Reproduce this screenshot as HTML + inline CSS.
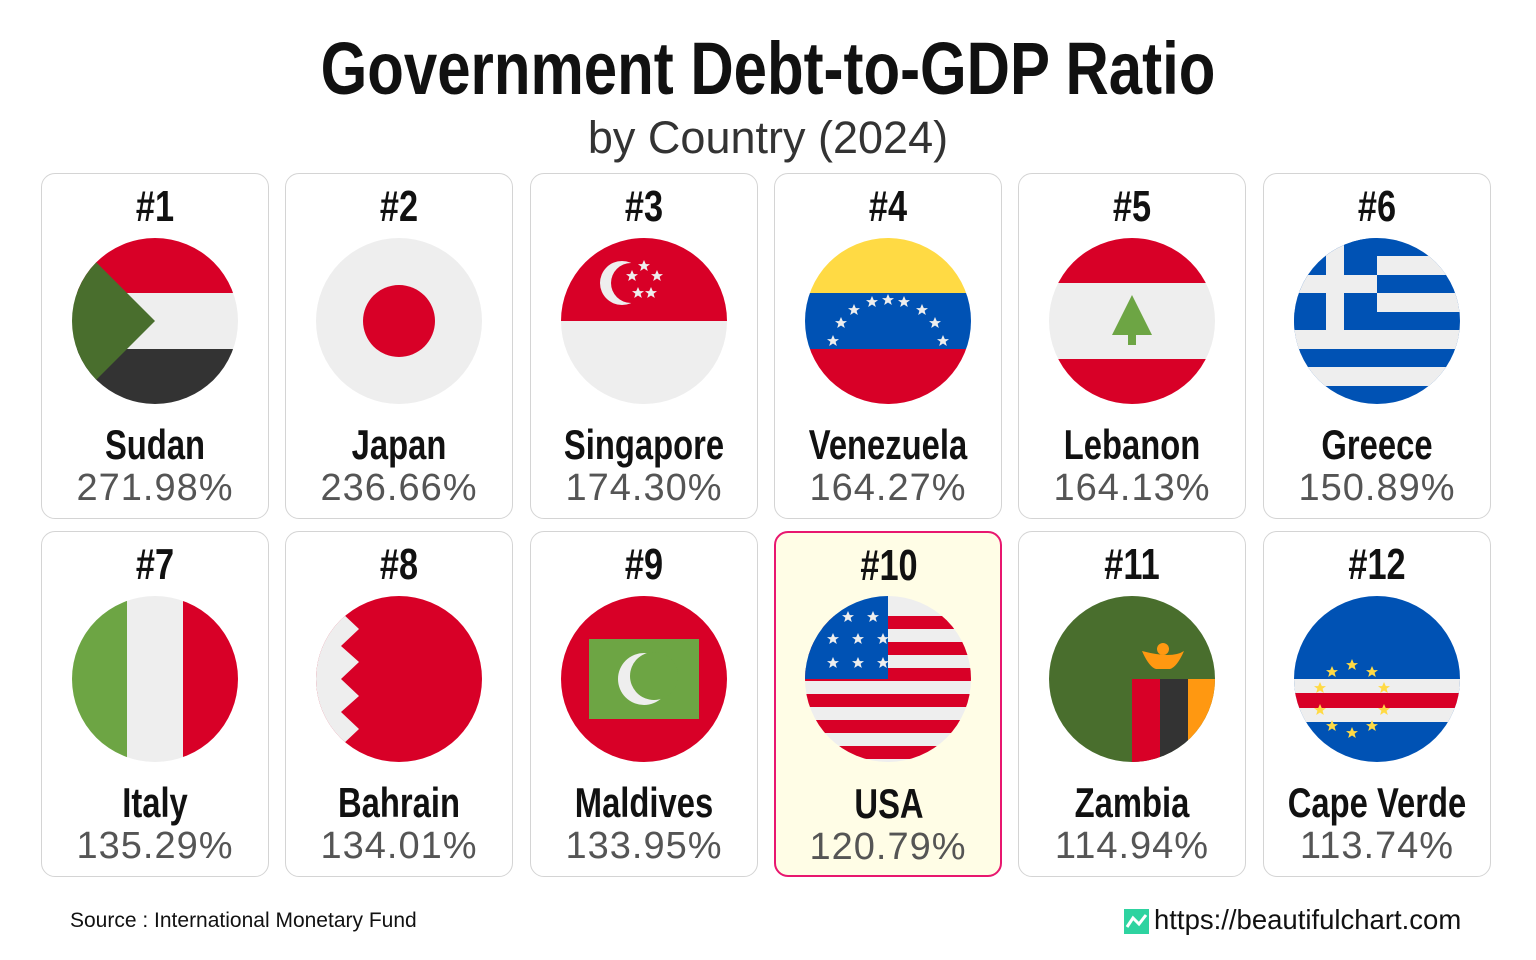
<!DOCTYPE html>
<html><head><meta charset="utf-8"><style>
body{margin:0;width:1536px;height:960px;background:#fff;position:relative;overflow:hidden;font-family:"Liberation Sans",sans-serif}
.t{position:absolute;left:0;width:1536px;text-align:center;white-space:nowrap}
.card{position:absolute;width:226px;height:344px;border:1px solid #d4d4d4;border-radius:14px;background:#fff}
.hl{border:2px solid #e8176f;width:224px;height:342px;background:#fffde6}
.rank,.name{position:absolute;left:-40px;width:306px;text-align:center;font-weight:bold;color:#111;transform:scaleX(0.78);font-size:44px;white-space:nowrap}
.rank{top:8px}
.name{top:247px;font-size:42px}
.val{position:absolute;left:0;width:100%;text-align:center;top:293px;font-size:38px;color:#555;letter-spacing:1px;white-space:nowrap}
.flag{position:absolute;left:29px;top:63px}
</style></head><body>
<div class="t" style="top:26px;font-size:74px;font-weight:bold;color:#111;transform:scaleX(0.81)">Government Debt-to-GDP Ratio</div>
<div class="t" style="top:112px;font-size:45px;color:#333">by Country (2024)</div>

<svg width="0" height="0" style="position:absolute"><defs><clipPath id="c"><circle cx="0" cy="0" r="83"/></clipPath>
<polygon id="st" points="0,-6 1.8,-1.9 6,-1.9 2.6,0.8 3.8,5 0,2.5 -3.8,5 -2.6,0.8 -6,-1.9 -1.8,-1.9"/></defs></svg>

<div class="card" style="left:41px;top:173px"><div class="rank">#1</div>
<svg class="flag" width="168" height="168" viewBox="-84 -84 168 168"><g clip-path="url(#c)"><rect x="-84" y="-84" width="168" height="56" fill="#d80027"/><rect x="-84" y="-28" width="168" height="56" fill="#eee"/><rect x="-84" y="28" width="168" height="56" fill="#333"/><polygon points="-84,-84 0,0 -84,84" fill="#496e2d"/></g></svg>
<div class="name">Sudan</div><div class="val">271.98%</div></div>

<div class="card" style="left:285px;top:173px"><div class="rank">#2</div>
<svg class="flag" width="168" height="168" viewBox="-84 -84 168 168"><circle r="83" fill="#eee"/><circle r="36" fill="#d80027"/></svg>
<div class="name">Japan</div><div class="val">236.66%</div></div>

<div class="card" style="left:530px;top:173px"><div class="rank">#3</div>
<svg class="flag" width="168" height="168" viewBox="-84 -84 168 168"><g clip-path="url(#c)"><rect x="-84" y="-84" width="168" height="84" fill="#d80027"/><rect x="-84" y="0" width="168" height="84" fill="#eee"/><circle cx="-22" cy="-38" r="22" fill="#eee"/><circle cx="-13" cy="-38" r="20" fill="#d80027"/><use href="#st" x="0" y="-55" fill="#eee"/><use href="#st" x="13" y="-45" fill="#eee"/><use href="#st" x="-12" y="-45" fill="#eee"/><use href="#st" x="-6" y="-28" fill="#eee"/><use href="#st" x="7" y="-28" fill="#eee"/></g></svg>
<div class="name">Singapore</div><div class="val">174.30%</div></div>

<div class="card" style="left:774px;top:173px"><div class="rank">#4</div>
<svg class="flag" width="168" height="168" viewBox="-84 -84 168 168"><g clip-path="url(#c)"><rect x="-84" y="-84" width="168" height="56" fill="#ffda44"/><rect x="-84" y="-28" width="168" height="56" fill="#0052b4"/><rect x="-84" y="28" width="168" height="56" fill="#d80027"/><g fill="#eee"><use href="#st" x="-55" y="20"/><use href="#st" x="-47" y="2"/><use href="#st" x="-34" y="-11"/><use href="#st" x="-16" y="-19"/><use href="#st" x="0" y="-21"/><use href="#st" x="16" y="-19"/><use href="#st" x="34" y="-11"/><use href="#st" x="47" y="2"/><use href="#st" x="55" y="20"/></g></g></svg>
<div class="name">Venezuela</div><div class="val">164.27%</div></div>

<div class="card" style="left:1018px;top:173px"><div class="rank">#5</div>
<svg class="flag" width="168" height="168" viewBox="-84 -84 168 168"><g clip-path="url(#c)"><rect x="-84" y="-84" width="168" height="46" fill="#d80027"/><rect x="-84" y="-38" width="168" height="76" fill="#eee"/><rect x="-84" y="38" width="168" height="46" fill="#d80027"/><polygon points="0,-26 -20,14 20,14" fill="#6da544"/><rect x="-4" y="12" width="8" height="12" fill="#6da544"/></g></svg>
<div class="name">Lebanon</div><div class="val">164.13%</div></div>

<div class="card" style="left:1263px;top:173px"><div class="rank">#6</div>
<svg class="flag" width="168" height="168" viewBox="-84 -84 168 168"><g clip-path="url(#c)"><rect x="-84" y="-84" width="168" height="168" fill="#0052b4"/><g fill="#eee"><rect x="-84" y="-65" width="168" height="19"/><rect x="-84" y="-28" width="168" height="19"/><rect x="-84" y="9" width="168" height="19"/><rect x="-84" y="46" width="168" height="19"/></g><rect x="-84" y="-84" width="84" height="93" fill="#0052b4"/><rect x="-84" y="-46" width="84" height="18" fill="#eee"/><rect x="-51" y="-84" width="18" height="93" fill="#eee"/></g></svg>
<div class="name">Greece</div><div class="val">150.89%</div></div>

<div class="card" style="left:41px;top:531px"><div class="rank">#7</div>
<svg class="flag" width="168" height="168" viewBox="-84 -84 168 168"><g clip-path="url(#c)"><rect x="-84" y="-84" width="56" height="168" fill="#6da544"/><rect x="-28" y="-84" width="56" height="168" fill="#eee"/><rect x="28" y="-84" width="56" height="168" fill="#d80027"/></g></svg>
<div class="name">Italy</div><div class="val">135.29%</div></div>

<div class="card" style="left:285px;top:531px"><div class="rank">#8</div>
<svg class="flag" width="168" height="168" viewBox="-84 -84 168 168"><g clip-path="url(#c)"><rect x="-84" y="-84" width="168" height="168" fill="#d80027"/><polygon points="-84,-84 -40,-84 -58,-67 -40,-50 -58,-33 -40,-17 -58,0 -40,17 -58,33 -40,50 -58,67 -40,84 -84,84" fill="#eee"/></g></svg>
<div class="name">Bahrain</div><div class="val">134.01%</div></div>

<div class="card" style="left:530px;top:531px"><div class="rank">#9</div>
<svg class="flag" width="168" height="168" viewBox="-84 -84 168 168"><g clip-path="url(#c)"><rect x="-84" y="-84" width="168" height="168" fill="#d80027"/><rect x="-55" y="-40" width="110" height="80" fill="#6da544"/><circle cx="0" cy="0" r="26" fill="#eee"/><circle cx="10" cy="-3" r="24" fill="#6da544"/></g></svg>
<div class="name">Maldives</div><div class="val">133.95%</div></div>

<div class="card hl" style="left:774px;top:531px"><div class="rank">#10</div>
<svg class="flag" width="168" height="168" viewBox="-84 -84 168 168" style="left:28px;top:62px"><g clip-path="url(#c)"><rect x="-84" y="-84" width="168" height="168" fill="#eee"/><g fill="#d80027"><rect x="-84" y="-63" width="168" height="13"/><rect x="-84" y="-37" width="168" height="13"/><rect x="-84" y="-11" width="168" height="13"/><rect x="-84" y="15" width="168" height="13"/><rect x="-84" y="41" width="168" height="13"/><rect x="-84" y="67" width="168" height="13"/></g><rect x="-84" y="-84" width="84" height="84" fill="#0052b4"/><g fill="#eee"><use href="#st" x="-40" y="-62"/><use href="#st" x="-15" y="-62"/><use href="#st" x="-55" y="-40"/><use href="#st" x="-30" y="-40"/><use href="#st" x="-5" y="-40"/><use href="#st" x="-55" y="-16"/><use href="#st" x="-30" y="-16"/><use href="#st" x="-5" y="-16"/></g></g></svg>
<div class="name">USA</div><div class="val">120.79%</div></div>

<div class="card" style="left:1018px;top:531px"><div class="rank">#11</div>
<svg class="flag" width="168" height="168" viewBox="-84 -84 168 168"><g clip-path="url(#c)"><rect x="-84" y="-84" width="168" height="168" fill="#496e2d"/><rect x="0" y="0" width="28" height="84" fill="#d80027"/><rect x="28" y="0" width="28" height="84" fill="#333"/><rect x="56" y="0" width="28" height="84" fill="#ff9811"/><path d="M10,-28 Q40,-20 52,-28 Q45,-12 38,-10 L24,-10 Q17,-12 10,-28Z" fill="#ff9811"/><circle cx="31" cy="-30" r="6" fill="#ff9811"/></g></svg>
<div class="name">Zambia</div><div class="val">114.94%</div></div>

<div class="card" style="left:1263px;top:531px"><div class="rank">#12</div>
<svg class="flag" width="168" height="168" viewBox="-84 -84 168 168"><g clip-path="url(#c)"><rect x="-84" y="-84" width="168" height="168" fill="#0052b4"/><rect x="-84" y="0" width="168" height="43" fill="#eee"/><rect x="-84" y="14" width="168" height="15" fill="#d80027"/><g fill="#ffda44"><use href="#st" x="-25" y="-14"/><use href="#st" x="-45" y="-7"/><use href="#st" x="-5" y="-7"/><use href="#st" x="-57" y="9"/><use href="#st" x="7" y="9"/><use href="#st" x="-57" y="31"/><use href="#st" x="7" y="31"/><use href="#st" x="-45" y="47"/><use href="#st" x="-5" y="47"/><use href="#st" x="-25" y="54"/></g></g></svg>
<div class="name">Cape Verde</div><div class="val">113.74%</div></div>

<div style="position:absolute;left:70px;top:909px;font-size:21px;color:#111;white-space:nowrap">Source : International Monetary Fund</div>
<svg style="position:absolute;left:1124px;top:909px" width="25" height="25" viewBox="0 0 25 25"><rect width="25" height="25" fill="#2ed3a0"/><polyline points="3,18 9,9 15,15 22,6" fill="none" stroke="#fff" stroke-width="3"/></svg>
<div style="position:absolute;left:1154px;top:904px;font-size:27.5px;color:#111;white-space:nowrap">https://beautifulchart.com</div>
</body></html>
